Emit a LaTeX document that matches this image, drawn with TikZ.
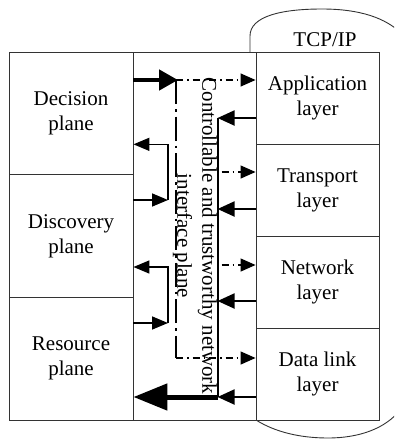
\documentclass[tikz,border=0pt]{standalone}
\usepackage{fontspec}
\setmainfont{Liberation Serif}
\usetikzlibrary{arrows.meta}

\begin{document}
\begin{tikzpicture}
  [x=1pt,y=-1pt,
   every node/.style={font=\fontsize{21}{25}\selectfont},
   frame/.style={draw=black!80,line width=0.9pt},
   plane/.style={frame,minimum width=124pt,minimum height=122.67pt,inner sep=0pt,align=center},
   layer/.style={frame,minimum width=123pt,minimum height=92pt,inner sep=0pt,align=center},
   bigctl/.style={line width=4.5pt,-{Triangle[length=19pt,width=20pt]}},
   ctlline/.style={line width=2.4pt,dash pattern=on 24pt off 5pt on 2.5pt off 5pt},
   ctlarrow/.style={line width=1.3pt,dash pattern=on 7pt off 4pt on 1.5pt off 4pt,-{Triangle[length=15pt,width=13pt]}},
   retarrow/.style={line width=2pt,-{Triangle[length=17pt,width=15pt]}},
   retline/.style={line width=1.6pt},
   bigret/.style={line width=5pt,-{Triangle[length=34pt,width=26pt]}},
   link/.style={line width=1.6pt,-{Triangle[length=16pt,width=13pt]}}]
  \useasboundingbox (0,0) rectangle (394,439);
  \clip (0,0) rectangle (394,439);

  % TCP/IP outline round the layers
  \draw[frame] (250,52) -- (250,36) .. controls (250,16) and (282,9) .. (322,9)
    .. controls (360,9) and (386,18) .. (402,34);
  \draw[frame] (256,420) .. controls (275,432) and (300,438) .. (328,438)
    .. controls (360,438) and (386,428) .. (400,410);
  \node (tcp) at (325,40) {TCP/IP};

  % planes
  \node (dec) at (71,113.33) [plane] {Decision\\plane};
  \node (dis) at (71,236) [plane] {Discovery\\plane};
  \node (res) at (71,358.67) [plane] {Resource\\plane};

  % interface plane
  \node (mid) at (194.5,236) [frame,minimum width=123pt,minimum height=368pt] {};
  \node (ifc) at (195,236) [rotate=-90,align=center] {Controllable and trustworthy network\\interface plane};

  % layers
  \node (app) at (317.5,98) [layer] {Application\\layer};
  \node (tra) at (317.5,190) [layer] {Transport\\layer};
  \node (net) at (317.5,282) [layer] {Network\\layer};
  \node (dl) at (317.5,374) [layer] {Data link\\layer};

  % control path
  \coordinate (ctl) at (176,80);
  \coordinate (ctlend) at (176,358);
  \draw[bigctl] (dec.east |- ctl) -- ([xshift=2pt]ctl);
  \draw[ctlline] (ctl) -- (ctlend);
  \draw[ctlarrow] (ctl) -- (ctl -| app.west);
  \draw[ctlarrow] ([yshift=18pt]tra.west) ++(-34,0) -- ([yshift=18pt]tra.west);
  \draw[ctlarrow] ([yshift=17pt]net.west) ++(-34,0) -- ([yshift=17pt]net.west);
  \draw[ctlarrow] (ctlend) -- (ctlend -| dl.west);

  % return path
  \coordinate (ret) at (218,118);
  \coordinate (retend) at (218,397);
  \draw[retline] (ret) -- (retend);
  \foreach \n/\d in {app/20,tra/19,net/19,dl/23}
    \draw[retarrow] ([yshift=-\d pt]\n.west) -- ++(-38,0);
  \draw[bigret] (retend) -- (retend -| res.east);

  % links between planes
  \coordinate (up1) at (168,200);
  \coordinate (up2) at (168,323);
  \draw[link] (dis.east |- up1) -- (up1);
  \draw[link] (up1) |- ([yshift=-31pt]dec.east);
  \draw[link] (res.east |- up2) -- (up2);
  \draw[link] (up2) |- ([yshift=-31pt]dis.east);
\end{tikzpicture}
\end{document}
